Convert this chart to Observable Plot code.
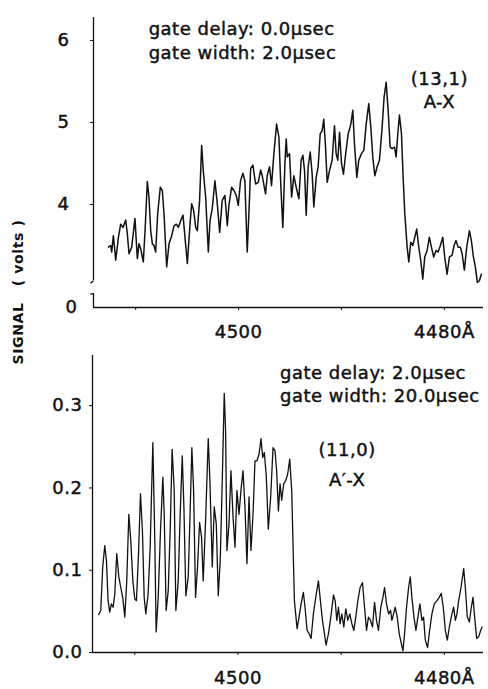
<!DOCTYPE html>
<html>
<head>
<meta charset="utf-8">
<script src="https://cdn.jsdelivr.net/npm/d3@7"></script>
<script src="https://cdn.jsdelivr.net/npm/@observablehq/plot@0.6"></script>
<style>
  html, body { margin: 0; padding: 0; background: #fff; }
  #chart { position: relative; width: 488px; height: 689px; font-family: "DejaVu Sans", sans-serif; color: #111; overflow: hidden; }
  #chart svg { position: absolute; left: 0; overflow: visible; }
  #chart svg text { letter-spacing: 0.5px; stroke: #111; stroke-width: 0.45px; }
  #ylabel { position: absolute; left: -80px; top: 282px; width: 200px; height: 20px; line-height: 20px; text-align: center;
            transform: rotate(-90deg); font: bold 14px "DejaVu Sans", sans-serif; letter-spacing: 0.6px; white-space: pre; color: #111; }
</style>
</head>
<body>
<div id="chart"><div id="ylabel">SIGNAL   ( volts )</div></div>
<script>
// ---------- shared x axis (wavelength, Å, decreasing to the right) ----------
const xDomain = [4514.1, 4476.2];
const xTicks = [4510, 4500, 4490, 4480];
const xTickLabels = {4500: "4500", 4480: "4480Å"};

// ---------- top panel: (13,1) A–X, gate delay 0.0 μs ----------
const topWavelength = [
  4512.65,4512.43,4512.33,4512.17,4511.94,4511.68,4511.46,4511.23,4510.97,4510.81,
  4510.65,4510.39,4510.07,4509.84,4509.68,4509.51,4509.26,4509.09,4508.87,4508.71,
  4508.54,4508.38,4508.22,4508.06,4507.86,4507.61,4507.41,4507.25,4506.99,4506.76,
  4506.50,4506.28,4506.05,4505.86,4505.63,4505.40,4505.21,4504.98,4504.72,4504.56,
  4504.37,4504.17,4504.01,4503.79,4503.59,4503.43,4503.20,4502.94,4502.78,4502.56,
  4502.30,4502.07,4501.84,4501.59,4501.33,4501.10,4500.94,4500.68,4500.45,4500.23,
  4500.03,4499.81,4499.58,4499.39,4499.16,4499.00,4498.83,4498.61,4498.35,4498.09,
  4497.86,4497.70,4497.38,4497.22,4496.99,4496.80,4496.57,4496.31,4496.08,4495.89,
  4495.70,4495.50,4495.37,4495.27,4495.05,4494.85,4494.63,4494.40,4494.14,4493.92,
  4493.75,4493.59,4493.43,4493.24,4493.04,4492.85,4492.69,4492.46,4492.27,4492.07,
  4491.88,4491.72,4491.55,4491.39,4491.17,4490.91,4490.68,4490.52,4490.36,4490.19,
  4490.00,4489.81,4489.61,4489.35,4489.09,4488.90,4488.74,4488.51,4488.32,4488.06,
  4487.83,4487.60,4487.35,4487.15,4486.96,4486.76,4486.54,4486.31,4486.05,4485.86,
  4485.66,4485.47,4485.27,4485.08,4484.85,4484.69,4484.53,4484.37,4484.17,4484.01,
  4483.85,4483.62,4483.46,4483.27,4483.07,4482.88,4482.69,4482.49,4482.30,4482.10,
  4481.91,4481.68,4481.46,4481.26,4481.04,4480.81,4480.61,4480.39,4480.16,4479.97,
  4479.74,4479.51,4479.26,4479.06,4478.87,4478.67,4478.45,4478.28,4478.06,4477.83,
  4477.57,4477.38,4477.18,4476.99,4476.80,4476.60,4476.41
];
const topSignal = [
  3.48,3.50,3.42,3.62,3.32,3.60,3.76,3.72,3.81,3.64,
  3.40,3.48,3.83,3.34,3.52,3.46,3.30,3.68,4.28,4.09,
  3.68,3.52,3.50,3.42,3.89,4.21,4.17,3.89,3.24,3.52,
  3.62,3.74,3.76,3.72,3.80,3.87,3.60,3.28,3.76,4.01,
  3.93,3.72,3.68,4.05,4.72,4.41,4.09,3.42,3.80,3.95,
  4.29,4.01,3.66,4.05,4.11,3.74,3.99,4.21,4.17,4.11,
  3.99,4.29,4.38,4.29,3.42,3.89,4.44,4.48,4.25,4.27,
  4.42,4.35,4.13,4.35,4.46,4.23,4.62,4.98,4.82,4.21,
  3.72,4.50,4.80,4.58,4.62,4.09,4.35,4.21,4.07,4.54,
  4.60,4.41,3.87,4.46,4.64,4.37,3.97,4.33,4.46,4.86,
  4.90,5.04,4.70,4.27,4.41,4.54,4.96,4.62,4.54,4.88,
  4.50,4.37,4.60,4.86,4.98,5.15,4.74,4.33,4.54,4.62,
  4.66,4.98,5.23,4.94,4.58,4.35,4.46,4.54,4.94,5.31,
  5.49,5.15,4.70,4.68,4.70,4.58,4.86,5.09,4.86,4.33,
  3.89,3.48,3.30,3.54,3.50,3.60,3.70,3.48,3.32,3.09,
  3.36,3.44,3.60,3.48,3.36,3.44,3.42,3.50,3.60,3.36,
  3.15,3.36,3.38,3.50,3.56,3.48,3.48,3.40,3.20,3.48,
  3.68,3.56,3.36,3.24,3.05,3.07,3.15
];
// broken y axis: the zero line is drawn at the bottom of a 3–6.28 V window
const topYDomain = [2.744, 6.28];   // bottom of window = broken-axis "0" position
const topYTicks = [4, 5, 6];
const topZeroLabel = "0";
const topAxisLow = [2.744, 2.915];  // short stub above the zero line
const topAxisHigh = [3.07, 6.28];   // main axis segment
const topNotes = [
  {x: 4508.74, y: 6.14, text: "gate delay: 0.0μsec", anchor: "start"},
  {x: 4508.74, y: 5.85, text: "gate width: 2.0μsec", anchor: "start"},
  {x: 4480.49, y: 5.53, text: "(13,1)", anchor: "middle"},
  {x: 4480.49, y: 5.25, text: "A-X", anchor: "middle"}
];

// ---------- bottom panel: (11,0) A′–X, gate delay 2.0 μs ----------
const bottomWavelength = [
  4513.50,4513.30,4513.11,4512.91,4512.75,4512.59,4512.43,4512.27,4512.10,4511.94,
  4511.75,4511.55,4511.36,4511.17,4510.97,4510.78,4510.58,4510.39,4510.19,4510.00,
  4509.84,4509.64,4509.45,4509.26,4509.09,4508.93,4508.71,4508.51,4508.25,4508.06,
  4507.93,4507.73,4507.51,4507.28,4507.15,4506.96,4506.76,4506.57,4506.38,4506.18,
  4506.02,4505.79,4505.60,4505.40,4505.24,4505.05,4504.82,4504.66,4504.47,4504.30,
  4504.11,4503.92,4503.72,4503.53,4503.37,4503.14,4502.88,4502.72,4502.49,4502.30,
  4502.10,4501.91,4501.72,4501.52,4501.33,4501.20,4501.07,4500.87,4500.68,4500.49,
  4500.29,4500.10,4499.90,4499.71,4499.51,4499.32,4499.13,4498.93,4498.74,4498.54,
  4498.35,4498.16,4497.96,4497.77,4497.60,4497.44,4497.25,4497.06,4496.83,4496.60,
  4496.41,4496.25,4496.08,4495.92,4495.76,4495.57,4495.37,4495.18,4494.98,4494.79,
  4494.53,4494.27,4494.08,4493.88,4493.66,4493.50,4493.30,4493.11,4492.91,4492.69,
  4492.46,4492.20,4492.01,4491.81,4491.62,4491.46,4491.23,4491.00,4490.74,4490.58,
  4490.42,4490.26,4490.10,4489.93,4489.74,4489.55,4489.35,4489.16,4488.96,4488.77,
  4488.58,4488.38,4488.16,4487.93,4487.73,4487.54,4487.35,4487.15,4486.96,4486.76,
  4486.57,4486.38,4486.15,4485.95,4485.79,4485.60,4485.40,4485.21,4485.08,4484.92,
  4484.76,4484.56,4484.37,4484.17,4484.01,4483.85,4483.66,4483.46,4483.30,4483.14,
  4482.94,4482.75,4482.56,4482.36,4482.17,4482.01,4481.84,4481.62,4481.42,4481.20,
  4480.97,4480.71,4480.49,4480.29,4480.10,4479.90,4479.71,4479.51,4479.26,4479.09,
  4478.93,4478.77,4478.61,4478.38,4478.12,4477.96,4477.77,4477.57,4477.38,4477.22,
  4477.06,4476.86,4476.67,4476.47,4476.34
];
const bottomSignal = [
  0.046,0.051,0.104,0.130,0.112,0.063,0.049,0.059,0.055,0.071,
  0.120,0.092,0.079,0.067,0.043,0.087,0.168,0.136,0.087,0.065,
  0.063,0.120,0.193,0.148,0.067,0.047,0.071,0.128,0.255,0.136,
  0.025,0.067,0.148,0.213,0.168,0.051,0.075,0.148,0.247,0.197,
  0.051,0.087,0.168,0.239,0.177,0.069,0.092,0.160,0.249,0.197,
  0.067,0.104,0.158,0.140,0.087,0.160,0.260,0.209,0.104,0.177,
  0.156,0.069,0.112,0.209,0.315,0.270,0.124,0.156,0.221,0.168,
  0.128,0.197,0.168,0.197,0.221,0.177,0.108,0.189,0.124,0.168,
  0.233,0.233,0.241,0.260,0.237,0.243,0.213,0.150,0.189,0.249,
  0.245,0.221,0.172,0.205,0.185,0.205,0.209,0.217,0.235,0.197,
  0.063,0.029,0.043,0.059,0.073,0.055,0.027,0.023,0.017,0.047,
  0.067,0.087,0.063,0.039,0.023,0.009,0.023,0.043,0.070,0.063,
  0.039,0.055,0.035,0.047,0.031,0.053,0.039,0.047,0.035,0.027,
  0.043,0.063,0.079,0.085,0.055,0.027,0.043,0.039,0.031,0.061,
  0.039,0.027,0.055,0.067,0.079,0.059,0.047,0.051,0.039,0.047,
  0.055,0.043,0.023,0.011,0.002,0.023,0.055,0.079,0.092,0.067,
  0.043,0.027,0.043,0.059,0.039,0.043,0.015,0.006,0.027,0.047,
  0.059,0.063,0.067,0.072,0.055,0.027,0.015,0.031,0.047,0.055,
  0.039,0.047,0.063,0.079,0.102,0.079,0.043,0.037,0.055,0.067,
  0.043,0.017,0.019,0.027,0.031
];
const bottomYDomain = [0, 0.361];
const bottomYTicks = [0, 0.1, 0.2, 0.3];
const bottomNotes = [
  {x: 4495.92, y: 0.339, text: "gate delay: 2.0μsec", anchor: "start"},
  {x: 4495.92, y: 0.312, text: "gate width: 20.0μsec", anchor: "start"},
  {x: 4489.42, y: 0.246, text: "(11,0)", anchor: "middle"},
  {x: 4489.42, y: 0.209, text: "A′-X", anchor: "middle"}
];

// ---------- build ----------
const topData = topWavelength.map((w, i) => ({w, v: topSignal[i]}));
const bottomData = bottomWavelength.map((w, i) => ({w, v: bottomSignal[i]}));
const ink = "#111";
const style = {fontFamily: "DejaVu Sans, sans-serif", fontSize: "18px", color: ink, background: "transparent", overflow: "visible"};
const xOpts = {domain: xDomain, ticks: xTicks, tickFormat: d => xTickLabels[d] ?? "", tickSize: 3, tickPadding: 15, label: null};
const notes = (arr) => ["start", "middle"].map(a =>
  Plot.text(arr.filter(d => d.anchor === a), {x: "x", y: "y", text: "text", textAnchor: a, lineAnchor: "middle", fontSize: 18, fill: ink}));

const x0 = xDomain[0];
const topPlot = Plot.plot({
  width: 488, height: 345,
  marginLeft: 93, marginRight: 5, marginTop: 17, marginBottom: 38,
  style,
  x: xOpts,
  y: {domain: topYDomain, ticks: topYTicks, tickFormat: d => String(d), tickSize: 3, tickPadding: 21, label: null},
  marks: [
    Plot.ruleY([topYDomain[0]], {stroke: ink, strokeWidth: 1.3}),
    Plot.ruleX([{y1: topAxisLow[0], y2: topAxisLow[1]}, {y1: topAxisHigh[0], y2: topAxisHigh[1]}], {x: () => x0, y1: "y1", y2: "y2", stroke: ink, strokeWidth: 1.3}),
    // axis break hooks
    Plot.link([{y1: topAxisHigh[0], y2: topAxisHigh[0] - 0.03}, {y1: topAxisLow[1], y2: topAxisLow[1] - 0.012}],
      {x1: () => x0, x2: () => x0 + 0.3, y1: "y1", y2: "y2", stroke: ink, strokeWidth: 1.3}),
    Plot.text([topZeroLabel], {x: () => x0, y: () => topYDomain[0], text: d => d, textAnchor: "end", dx: -16, fontSize: 18, fill: ink}),
    Plot.line(topData, {x: "w", y: "v", stroke: ink, strokeWidth: 1.5, strokeLinejoin: "round"}),
    ...notes(topNotes)
  ]
});
topPlot.style.top = "0px";

const bottomPlot = Plot.plot({
  width: 488, height: 344,
  marginLeft: 92, marginRight: 5, marginTop: 10, marginBottom: 37,
  style,
  x: {...xOpts, tickPadding: 16},
  y: {domain: bottomYDomain, ticks: bottomYTicks, tickFormat: d => d.toFixed(1), tickSize: 3, tickPadding: 7, label: null},
  marks: [
    Plot.ruleY([0], {stroke: ink, strokeWidth: 1.3}),
    Plot.ruleX([x0], {y1: bottomYDomain[0], y2: bottomYDomain[1], stroke: ink, strokeWidth: 1.3}),
    Plot.line(bottomData, {x: "w", y: "v", stroke: ink, strokeWidth: 1.3, strokeLinejoin: "round"}),
    ...notes(bottomNotes)
  ]
});
bottomPlot.style.top = "345px";

const chart = document.getElementById("chart");
chart.appendChild(topPlot);
chart.appendChild(bottomPlot);
</script>
</body>
</html>
